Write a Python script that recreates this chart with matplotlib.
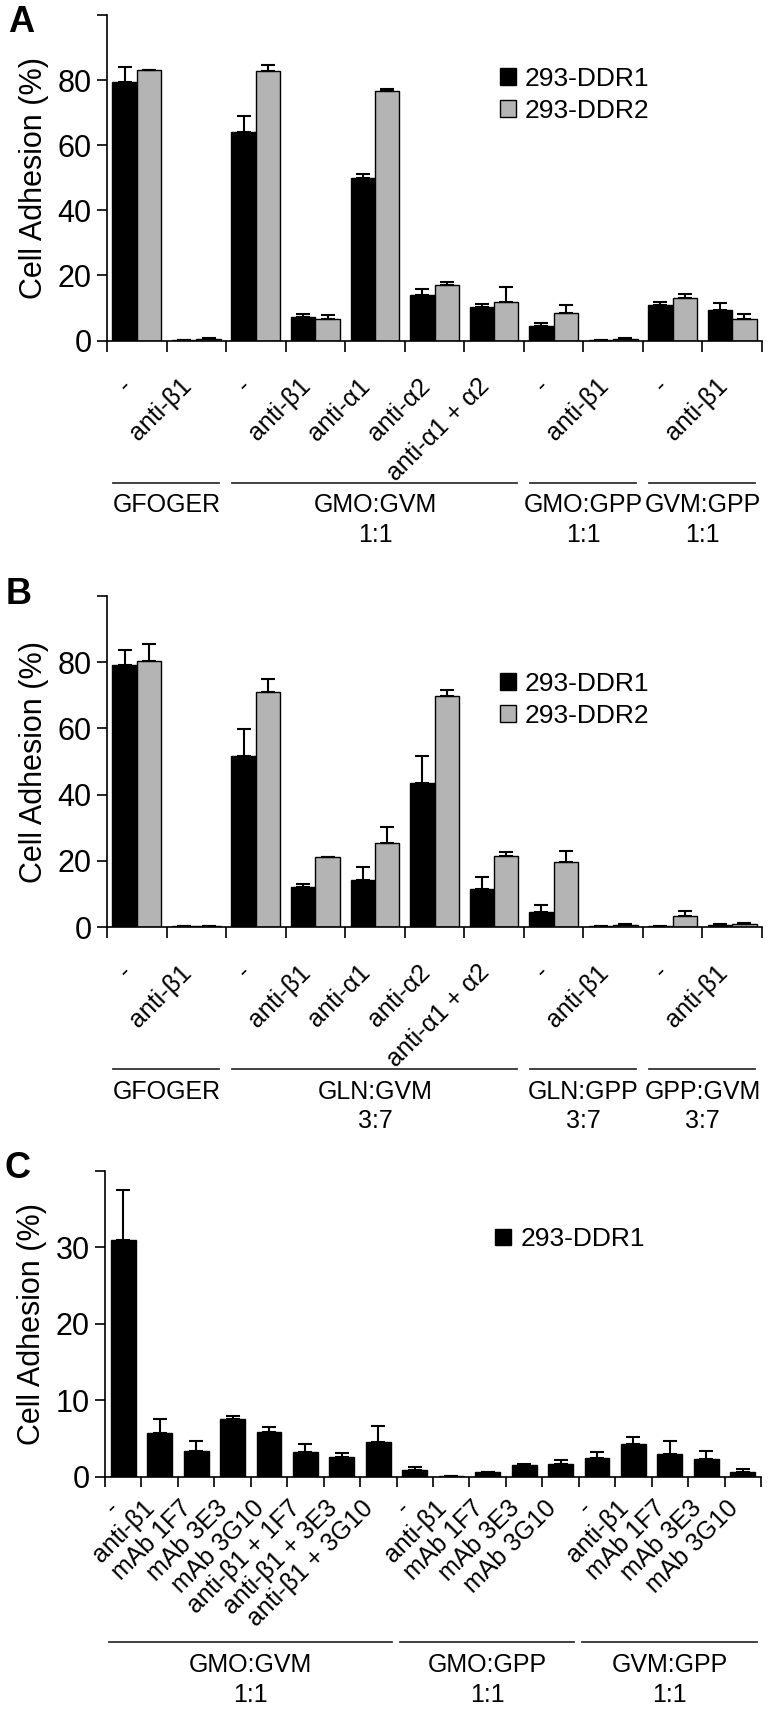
import matplotlib
matplotlib.use('Agg')
import matplotlib.pyplot as plt
import numpy as np
from matplotlib.patches import Patch

plt.rcParams['font.family'] = ['Liberation Sans', 'DejaVu Sans']

# ---- panel A ----
labels_a = ['-', 'anti-β1', '-', 'anti-β1', 'anti-α1', 'anti-α2', 'anti-α1 + α2',
            '-', 'anti-β1', '-', 'anti-β1']
ddr1_a = [79.5, 0.2, 64.2, 7.2, 49.9, 13.9, 10.2, 4.6, 0.2, 10.8, 9.4]
ddr1_a_err = [4.4, 0.0, 4.7, 0.8, 1.2, 1.9, 1.0, 0.7, 0.0, 1.1, 2.1]
ddr2_a = [83.0, 0.5, 82.8, 6.7, 76.8, 17.1, 11.9, 8.4, 0.5, 13.2, 6.5]
ddr2_a_err = [0.0, 0.2, 1.7, 1.1, 0.5, 0.9, 4.5, 2.5, 0.3, 1.0, 1.7]
groups_a = ['GFOGER', 'GMO:GVM', 'GMO:GPP', 'GVM:GPP']
ratios_a = ['', '1:1', '1:1', '1:1']
sizes_a = [2, 5, 2, 2]

# ---- panel B ----
labels_b = labels_a
ddr1_b = [79.3, 0.3, 51.8, 12.2, 14.3, 43.6, 11.5, 4.5, 0.2, 0.3, 0.6]
ddr1_b_err = [4.4, 0.0, 8.1, 0.9, 3.9, 8.2, 3.7, 2.2, 0.0, 0.0, 0.2]
ddr2_b = [80.4, 0.3, 71.1, 21.0, 25.4, 69.9, 21.3, 19.7, 0.5, 3.2, 0.9]
ddr2_b_err = [5.0, 0.0, 3.8, 0.0, 4.7, 1.6, 1.5, 3.4, 0.4, 1.5, 0.3]
groups_b = ['GFOGER', 'GLN:GVM', 'GLN:GPP', 'GPP:GVM']
ratios_b = ['', '3:7', '3:7', '3:7']
sizes_b = [2, 5, 2, 2]

# ---- panel C ----
labels_c = ['-', 'anti-β1', 'mAb 1F7', 'mAb 3E3', 'mAb 3G10', 'anti-β1 + 1F7',
            'anti-β1 + 3E3', 'anti-β1 + 3G10',
            '-', 'anti-β1', 'mAb 1F7', 'mAb 3E3', 'mAb 3G10',
            '-', 'anti-β1', 'mAb 1F7', 'mAb 3E3', 'mAb 3G10']
ddr1_c = [31.0, 5.7, 3.35, 7.6, 5.8, 3.2, 2.6, 4.6,
          0.87, 0.15, 0.57, 1.57, 1.6,
          2.4, 4.3, 2.96, 2.26, 0.6]
ddr1_c_err = [6.5, 1.8, 1.35, 0.4, 0.7, 1.1, 0.45, 2.0,
              0.43, 0.0, 0.1, 0.1, 0.6,
              0.8, 0.9, 1.74, 1.09, 0.44]
groups_c = ['GMO:GVM', 'GMO:GPP', 'GVM:GPP']
ratios_c = ['1:1', '1:1', '1:1']
sizes_c = [8, 5, 5]

BLACK = '#000000'
GREY = '#b4b4b4'
W, H = 778, 1710


def add_axes(left, top, right, bottom):
    return fig.add_axes([left / W, 1 - bottom / H, (right - left) / W, (bottom - top) / H])


def setup(ax, labels, ymax, ystep, label_pad, tick_len):
    n = len(labels)
    ax.set_xlim(0, n)
    ax.set_ylim(0, ymax)
    for s in ['top', 'right']:
        ax.spines[s].set_visible(False)
    for s in ['left', 'bottom']:
        ax.spines[s].set_linewidth(1.2)
    yt = np.arange(0, ymax + 1, ystep)
    ax.set_yticks(yt)
    ax.set_yticklabels([str(int(v)) for v in yt[:-1]] + [''])
    ax.tick_params(axis='y', length=7, width=1.2, labelsize=22, pad=4)
    ax.set_xticks(np.arange(n + 1))
    ax.set_xticklabels([])
    ax.tick_params(axis='x', which='major', length=tick_len, width=1.2)
    ax.set_xticks(np.arange(n) + 0.5, minor=True)
    ax.set_xticklabels(labels, minor=True, rotation=45, ha='right', va='top',
                       fontsize=18)
    ax.tick_params(axis='x', which='minor', length=0, pad=label_pad)
    ax.set_ylabel('Cell Adhesion (%)', fontsize=22, labelpad=6)


def groups(ax, names, ratios, sizes, yline, yname, yratio):
    tr = ax.get_xaxis_transform()
    start = 0
    for name, ratio, size in zip(names, ratios, sizes):
        end = start + size
        ax.plot([start + 0.1, end - 0.12], [yline, yline], transform=tr,
                clip_on=False, color='#333333', lw=1.3)
        mid = (start + end) / 2
        ax.text(mid, yname, name, transform=tr, ha='center', va='center', fontsize=18)
        if ratio:
            ax.text(mid, yratio, ratio, transform=tr, ha='center', va='center', fontsize=18)
        start = end


def paired(ax, v1, e1, v2, e2):
    x = np.arange(len(v1)) + 0.5
    w = 0.41
    ax.bar(x - w / 2, v1, w, color=BLACK, edgecolor=BLACK, lw=1.0, zorder=2)
    ax.bar(x + w / 2, v2, w, color=GREY, edgecolor=BLACK, lw=1.0, zorder=2)
    ax.errorbar(x - w / 2, v1, yerr=[np.zeros(len(v1)), e1], fmt='none',
                ecolor=BLACK, elinewidth=1.5, capsize=5, capthick=1.5, zorder=3)
    ax.errorbar(x + w / 2, v2, yerr=[np.zeros(len(v2)), e2], fmt='none',
                ecolor=BLACK, elinewidth=1.5, capsize=5, capthick=1.5, zorder=3)


def legend(ax, handles, names, x, y):
    ax.legend(handles, names, loc='upper left', bbox_to_anchor=(x, y), frameon=False,
              fontsize=19, handlelength=0.6, handleheight=0.6, handletextpad=0.35,
              labelspacing=0.3, borderpad=0, borderaxespad=0)


fig = plt.figure(figsize=(W / 100, H / 100), dpi=100)

h1 = Patch(facecolor=BLACK, edgecolor=BLACK, lw=1.0)
h2 = Patch(facecolor=GREY, edgecolor=BLACK, lw=1.0)

axA = add_axes(107, 15, 762, 340.5)
paired(axA, ddr1_a, ddr1_a_err, ddr2_a, ddr2_a_err)
setup(axA, labels_a, 100, 20, 24, 8)
groups(axA, groups_a, ratios_a, sizes_a, -0.438, -0.505, -0.597)
legend(axA, [h1, h2], ['293-DDR1', '293-DDR2'], 0.6, 0.84)

axB = add_axes(107, 596, 762, 927)
paired(axB, ddr1_b, ddr1_b_err, ddr2_b, ddr2_b_err)
setup(axB, labels_b, 100, 20, 24, 8)
groups(axB, groups_b, ratios_b, sizes_b, -0.43, -0.497, -0.587)
legend(axB, [h1, h2], ['293-DDR1', '293-DDR2'], 0.6, 0.77)

axC = add_axes(105, 1170.7, 761, 1476.7)
xc = np.arange(len(ddr1_c)) + 0.5
axC.bar(xc, ddr1_c, 0.68, color=BLACK, edgecolor=BLACK, lw=1.0, zorder=2)
axC.errorbar(xc, ddr1_c, yerr=[np.zeros(len(ddr1_c)), ddr1_c_err], fmt='none',
             ecolor=BLACK, elinewidth=1.5, capsize=5, capthick=1.5, zorder=3)
setup(axC, labels_c, 40, 10, 14, 7)
groups(axC, groups_c, ratios_c, sizes_c, -0.54, -0.616, -0.714)
legend(axC, [h1], ['293-DDR1'], 0.595, 0.815)

fig.text(21 / W, 1 - 23 / H, 'A', fontsize=26, weight='bold', ha='center', va='center')
fig.text(19 / W, 1 - 595 / H, 'B', fontsize=26, weight='bold', ha='center', va='center')
fig.text(18 / W, 1 - 1168 / H, 'C', fontsize=26, weight='bold', ha='center', va='center')

fig.savefig('out.png', dpi=100)
